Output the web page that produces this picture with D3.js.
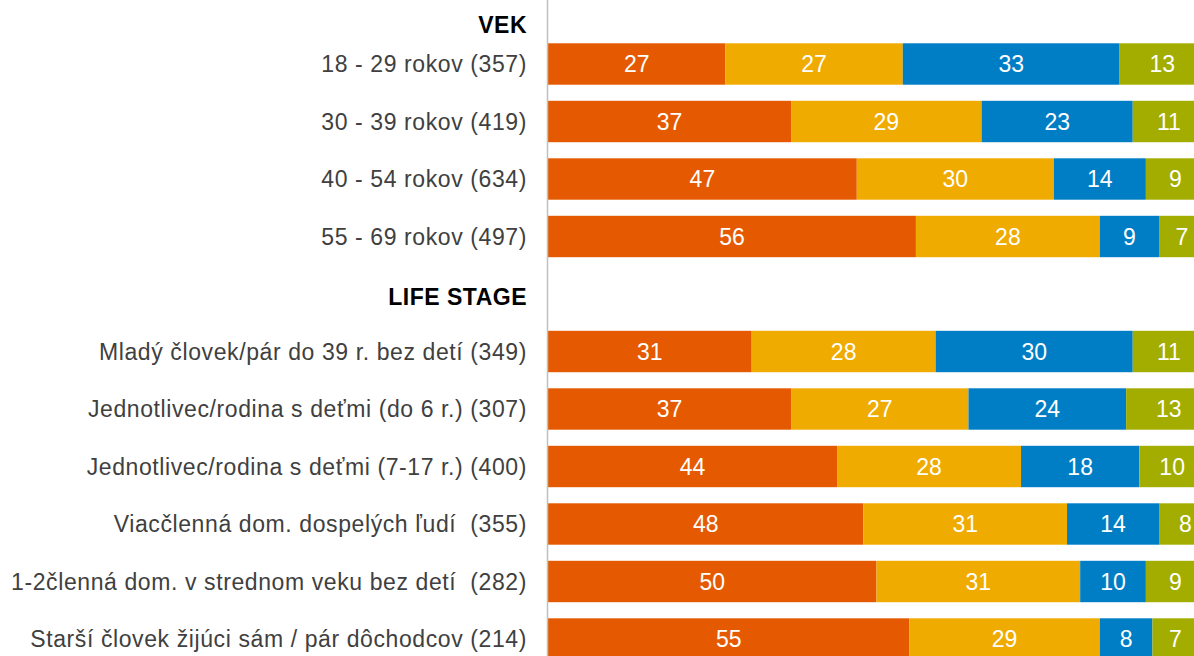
<!DOCTYPE html>
<html>
<head>
<meta charset="utf-8">
<script src="https://cdn.jsdelivr.net/npm/d3@7"></script>
<style>
  body { margin: 0; background: #fff; }
  svg { display: block; font-family: "Liberation Sans", Arial, sans-serif; }
</style>
</head>
<body>
<svg width="1194" height="656"></svg>
<script>
var svg = d3.select("svg"),
    width = +svg.attr("width"),
    height = +svg.attr("height");

// rows, headers included as empty rows
var rows = ["VEK",
    "18 - 29 rokov (357)", "30 - 39 rokov (419)", "40 - 54 rokov (634)", "55 - 69 rokov (497)",
    "LIFE STAGE",
    "Mladý človek/pár do 39 r. bez detí (349)",
    "Jednotlivec/rodina s deťmi (do 6 r.) (307)",
    "Jednotlivec/rodina s deťmi (7-17 r.) (400)",
    "Viacčlenná dom. dospelých ľudí  (355)",
    "1-2členná dom. v strednom veku bez detí  (282)",
    "Starší človek žijúci sám / pár dôchodcov (214)"];
var headers = ["VEK", "LIFE STAGE"];

var s1 = [27, 37, 47, 56, 31, 37, 44, 48, 50, 55];
var s2 = [27, 29, 30, 28, 28, 27, 28, 31, 31, 29];
var s3 = [33, 23, 14, 9, 30, 24, 18, 14, 10, 8];
var s4 = [13, 11, 9, 7, 11, 13, 10, 8, 9, 7];
var colors = ["#e55a00", "#f0ab00", "#007ec5", "#a2ad00"];

var cats = rows.filter(function(r) { return headers.indexOf(r) < 0; });
var data = cats.map(function(c, i) { return {name: c, v: [s1[i], s2[i], s3[i], s4[i]]}; });

var step = 57.5, y0 = 64 - 1.5 * step;
var y = d3.scaleBand()
    .domain(rows)
    .range([y0, y0 + rows.length * step])
    .paddingInner(0.28)
    .paddingOuter(0.14);

var x = d3.scaleLinear().domain([0, 100]).range([548, 1205]);

var g = svg.append("g");

data.forEach(function(d) {
    var acc = 0;
    d.v.forEach(function(v, k) {
        var x0 = x(acc), x1 = x(acc + v);
        acc += v;
        g.append("rect")
            .attr("x", x0).attr("y", y(d.name))
            .attr("width", x1 - x0).attr("height", y.bandwidth())
            .attr("fill", colors[k]);
        g.append("text")
            .attr("x", (x0 + x1) / 2)
            .attr("y", y(d.name) + y.bandwidth() / 2)
            .attr("dy", "0.36em")
            .attr("text-anchor", "middle")
            .attr("fill", "#fff")
            .style("font-size", "23px")
            .text(v);
    });
});

// axis line
svg.append("line")
    .attr("x1", 547.5).attr("x2", 547.5)
    .attr("y1", 0).attr("y2", height)
    .attr("stroke", "#c0c0c0").attr("stroke-width", 1.5);

// category labels
svg.selectAll(".lbl")
    .data(cats)
    .enter().append("text")
      .attr("class", "lbl")
      .attr("x", 527)
      .attr("y", function(d) { return y(d) + y.bandwidth() / 2; })
      .attr("dy", "0.36em")
      .attr("text-anchor", "end")
      .attr("fill", "#404040")
      .style("font-size", "23px")
      .style("letter-spacing", "0.6px")
      .style("white-space", "pre")
      .text(function(d) { return d; });

// group headers
svg.selectAll(".hdr")
    .data(headers)
    .enter().append("text")
      .attr("class", "hdr")
      .attr("x", 527)
      .attr("y", function(d, i) { return y(d) + y.bandwidth() / 2 + (i === 0 ? 18 : 3); })
      .attr("dy", "0.36em")
      .attr("text-anchor", "end")
      .attr("fill", "#000")
      .style("font-size", "23px")
      .style("letter-spacing", "0.5px")
      .style("font-weight", "bold")
      .text(function(d) { return d; });
</script>
</body>
</html>
